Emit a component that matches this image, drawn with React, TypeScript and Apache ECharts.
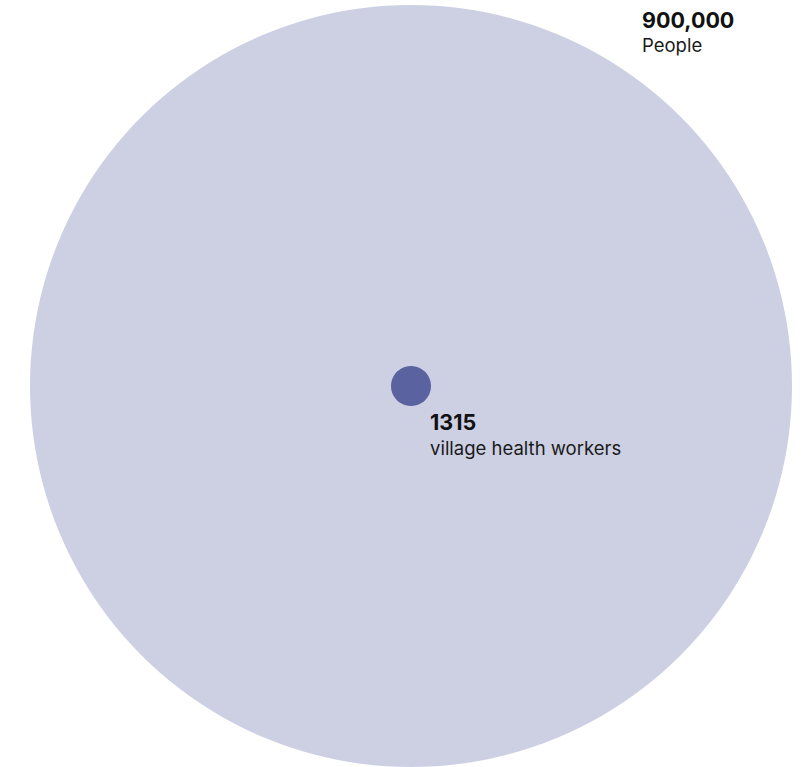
import React, { useEffect, useRef } from "react";
import * as echarts from "echarts";

const names = ["People", "village health workers"];
const values = [900000, 1315];
const valueLabels = ["900,000", "1315"];

export default function App() {
  const ref = useRef<HTMLDivElement>(null);
  useEffect(() => {
    document.body.style.margin = "0";
    const chart = echarts.init(ref.current!, null, { renderer: "svg" });
    const font = "Inter, 'Liberation Sans', sans-serif";
    const rich = {
      b: { fontFamily: font, fontSize: 21.5, fontWeight: 700, color: "#111111", lineHeight: 26 },
      r: { fontFamily: font, fontSize: 18.5, fontWeight: 400, color: "#1a1a1a", lineHeight: 25 },
    };
    const sizes = [762, 40];
    const colors = ["#cdd0e3", "#5a63a0"];
    const labelPos = [
      [612, 1.5],
      [39, 43],
    ];
    chart.setOption({
      animation: false,
      grid: { left: 20, right: 0, top: 5, bottom: 0 },
      xAxis: { type: "value", min: -1, max: 1, show: false },
      yAxis: { type: "value", min: -1, max: 1, show: false },
      series: values.map((v, i) => ({
        type: "scatter",
        name: names[i],
        symbol: "circle",
        symbolSize: sizes[i],
        itemStyle: { color: colors[i], opacity: 1 },
        data: [{ value: [0, 0], raw: v }],
        label: {
          show: true,
          position: labelPos[i],
          align: "left",
          verticalAlign: "top",
          formatter: () => `{b|${valueLabels[i]}}\n{r|${names[i]}}`,
          rich,
        },
        silent: true,
        z: i + 1,
      })),
    });
    return () => chart.dispose();
  }, []);
  return <div ref={ref} style={{ width: 802, height: 767 }} />;
}
